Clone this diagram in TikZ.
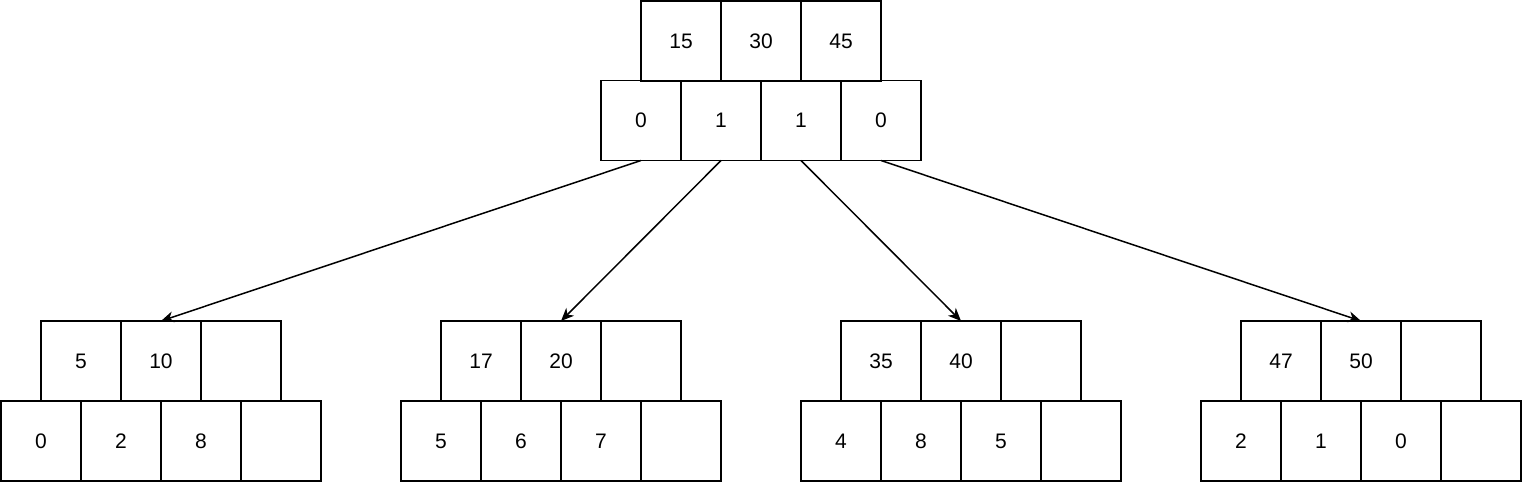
\documentclass[tikz,border=0pt]{standalone}
\usepackage{fontspec}
\setmainfont{Liberation Sans}
\usetikzlibrary{arrows.meta}
\begin{document}
\begin{tikzpicture}[x=1pt,y=1pt,
  cell/.style={draw=black,line width=1.5pt,minimum width=80pt,minimum height=80pt,inner sep=0pt,outer sep=0pt,font=\fontsize{21}{25}\selectfont},
  link/.style={line width=1.5pt,-{Stealth[length=13pt,width=11pt,inset=4pt]}}]
\useasboundingbox (0,0) rectangle (1522,-484);
% root
\node[cell] (rk1) at (681,-41) {15};
\node[cell] (rk2) at (761,-41) {30};
\node[cell] (rk3) at (841,-41) {45};
\node[cell] (rp1) at (641,-120.5) {0};
\node[cell] (rp2) at (721,-120.5) {1};
\node[cell] (rp3) at (801,-120.5) {1};
\node[cell] (rp4) at (881,-120.5) {0};
% leaves
\foreach \g/\o/\ka/\kb/\pa/\pb/\pc in {1/0/5/10/0/2/8, 2/400/17/20/5/6/7, 3/800/35/40/4/8/5, 4/1200/47/50/2/1/0}{
  \node[cell] (g\g k1) at (81+\o,-361) {\ka};
  \node[cell] (g\g k2) at (161+\o,-361) {\kb};
  \node[cell] (g\g k3) at (241+\o,-361) {};
  \node[cell] (g\g p1) at (41+\o,-441) {\pa};
  \node[cell] (g\g p2) at (121+\o,-441) {\pb};
  \node[cell] (g\g p3) at (201+\o,-441) {\pc};
  \node[cell] (g\g p4) at (281+\o,-441) {};
}
\draw[link] (rp1.south) -- (g1k2.north);
\draw[link] (rp2.south) -- (g2k2.north);
\draw[link] (rp3.south) -- (g3k2.north);
\draw[link] (rp4.south) -- (g4k2.north);
\end{tikzpicture}
\end{document}
